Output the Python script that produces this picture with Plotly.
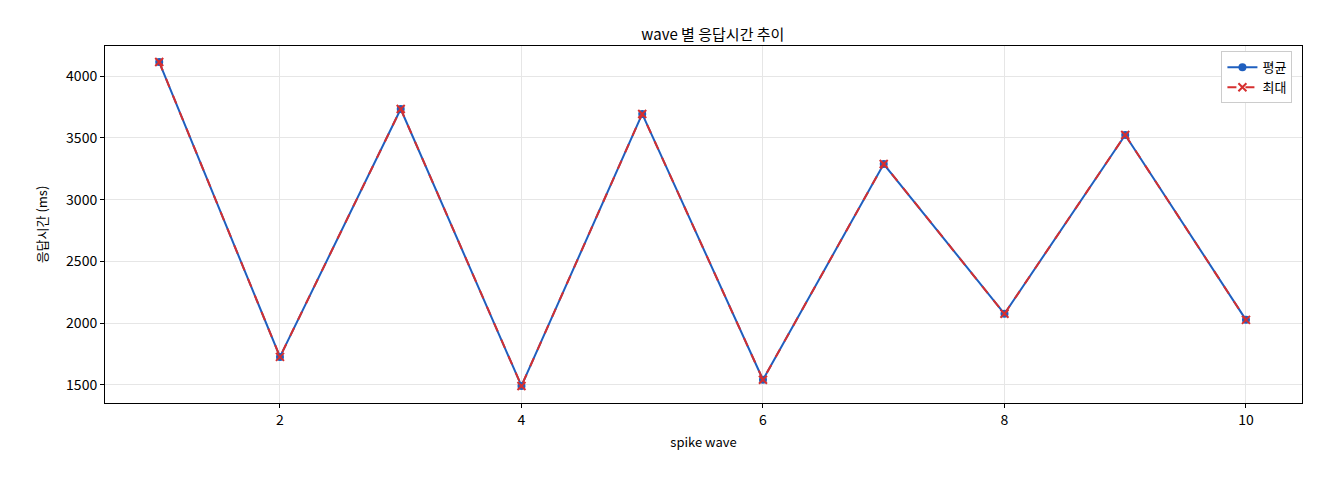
import plotly.graph_objects as go

waves = [1, 2, 3, 4, 5, 6, 7, 8, 9, 10]
avg_ms = [4113, 1727, 3733, 1492, 3693, 1542, 3288, 2076, 3523, 2027]
max_ms = [4113, 1727, 3733, 1492, 3693, 1542, 3288, 2076, 3523, 2027]

fig = go.Figure()
fig.add_trace(go.Scatter(x=waves, y=avg_ms, name="평균", mode="lines+markers",
                         line=dict(color="#1f5fbf", width=2), marker=dict(size=8, color="#1f5fbf")))
fig.add_trace(go.Scatter(x=waves, y=max_ms, name="최대", mode="lines+markers",
                         line=dict(color="#d62f2f", width=2, dash="dash"),
                         marker=dict(symbol="x-thin", size=8, line=dict(width=2, color="#d62f2f"), color="#d62f2f")))

axis = dict(showline=True, linecolor="black", mirror=True, showgrid=True, gridcolor="#e6e6e6",
            ticks="outside", ticklen=4, tickcolor="black", zeroline=False, tickfont=dict(size=14))
fig.update_layout(
    width=1320, height=480, plot_bgcolor="white", paper_bgcolor="white",
    font=dict(family="Noto Sans CJK KR, DejaVu Sans", size=13, color="black"),
    title=dict(text="wave 별 응답시간 추이", x=0.534, y=0.955, xanchor="center", font=dict(size=15)),
    margin=dict(l=97, r=26, t=38, b=85),
    xaxis=dict(axis, title=dict(text="spike wave", standoff=10, font=dict(size=13)),
               range=[0.551, 10.464], tickvals=[2, 4, 6, 8, 10]),
    yaxis=dict(axis, title=dict(text="응답시간 (ms)", font=dict(size=13)),
               range=[1354, 4243], tickvals=[1500, 2000, 2500, 3000, 3500, 4000]),
    legend=dict(x=0.992, y=0.985, xanchor="right", yanchor="top", bordercolor="#cccccc", borderwidth=1,
                bgcolor="white", font=dict(size=13)),
)
fig.write_html("out.html")
